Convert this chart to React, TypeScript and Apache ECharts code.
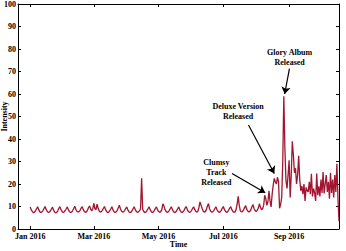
import { useEffect, useRef } from "react";
import * as echarts from "echarts";

// Daily search intensity, index 0 = 1 Jan 2016
const valuesJanToApr: number[] = [
  9.8, 8.5, 7.8, 7.2, 7.5, 8.1, 9.0,
  9.9, 8.6, 7.7, 7.3, 7.6, 8.2, 9.1,
  10.0, 8.7, 7.9, 7.4, 7.5, 8.0, 8.9,
  9.7, 8.4, 7.6, 7.2, 7.4, 8.1, 9.2,
  9.9, 8.6, 7.8, 7.3, 7.6, 8.3, 9.0,
  9.8, 8.5, 7.7, 7.4, 7.5, 8.2, 9.1,
  10.1, 8.8, 7.9, 7.5, 7.7, 8.3, 9.3,
  9.9, 8.6, 7.8, 7.4, 7.6, 8.4, 9.6,
  10.2, 8.8, 8.0, 9.0, 11.4, 9.0, 8.6,
  11.0, 9.2, 8.0, 7.5, 7.7, 8.3, 9.2,
  10.0, 8.6, 7.8, 7.3, 7.5, 8.2, 9.0,
  9.9, 8.5, 7.7, 7.3, 7.6, 8.3, 9.4,
  10.6, 9.0, 8.0, 7.5, 7.6, 8.2, 9.1,
  9.8, 8.5, 7.7, 7.3, 7.5, 8.1, 9.0,
  9.9, 8.6, 7.8, 7.4, 7.6, 8.2, 9.0,
];
const valuesAprToJul: number[] = [
  22.5, 8.8, 7.8, 7.3, 7.5, 8.2, 9.0,
  9.9, 8.6, 7.8, 7.3, 7.6, 8.3, 9.2,
  9.8, 8.5, 7.8, 7.4, 7.7, 8.6, 11.2,
  10.2, 8.7, 7.9, 7.4, 7.6, 8.2, 9.1,
  9.9, 8.6, 7.8, 7.3, 7.5, 8.1, 9.0,
  9.8, 8.5, 7.7, 7.3, 7.6, 8.3, 9.3,
  10.0, 8.6, 7.8, 7.4, 7.6, 8.2, 9.1,
  9.9, 8.7, 7.9, 7.5, 7.8, 9.6, 12.0,
  10.6, 9.1, 8.0, 7.5, 7.7, 8.6, 10.2,
  11.3, 9.0, 8.0, 7.5, 7.6, 8.2, 9.1,
  9.9, 8.6, 7.8, 7.4, 7.6, 8.3, 9.2,
  10.0, 8.7, 7.9, 7.4, 7.6, 8.3, 9.3,
  9.9, 8.6, 7.8, 7.4, 7.6, 8.6, 11.0,
  14.5, 10.5, 8.2, 7.6, 7.7, 8.4, 9.5,
  10.4, 8.8, 8.0, 7.6, 7.8, 8.6, 10.0,
];
const valuesReleaseSeason: number[] = [
  10.8, 9.0, 8.2, 7.8, 8.3, 9.4, 11.2, 9.6, 8.6, 9.0,
  10.5, 15.0, 13.5, 10.5, 12.0, 17.0, 12.5, 9.8, 15.5, 19.5,
  22.5, 21.0, 20.0, 23.0, 21.0, 9.2, 11.0, 14.0, 30.0, 59.0,
  36.0, 21.6, 18.0, 24.0, 30.5, 14.0, 24.0, 39.0, 33.0, 25.0,
  27.0, 20.0, 24.0, 32.5, 22.0, 17.0, 19.0, 15.5, 20.0, 12.5,
  18.5, 17.0, 16.5, 21.0, 15.5, 24.5, 14.5, 18.0, 16.0, 12.5,
  24.7, 15.0, 19.0, 14.5, 22.0, 16.0, 25.3, 15.8, 20.0, 24.0,
  16.5, 21.0, 13.5, 25.0, 16.0, 22.0, 14.0, 24.0, 16.5, 29.0,
  14.0, 3.5,
];

const xTickDays: number[] = [0, 60, 121, 182, 244];
const xTickLabels: string[] = ["Jan 2016", "Mar 2016", "May 2016", "Jul 2016", "Sep 2016"];

const annotationTexts: string[] = ["Glory Album\nReleased", "Deluxe Version\nReleased", "Clumsy\nTrack\nReleased"];
const annotationAnchors: number[][] = [[244.5, 76.3], [195.9, 52.3], [175.4, 25.3]];
const arrowStarts: number[][] = [[244.3, 71.3], [205.7, 46.2], [190.2, 24.7]];
const arrowEnds: number[][] = [[239.8, 60.0], [230.0, 24.7], [221.5, 16.1]];

const FONT = "'Liberation Serif', 'Times New Roman', serif";
const LINE_COLOR = "#A2142F";

export default function App() {
  const ref = useRef<HTMLDivElement>(null);
  useEffect(() => {
    const chart = echarts.init(ref.current!, null, { renderer: "svg" });
    const values = [...valuesJanToApr, ...valuesAprToJul, ...valuesReleaseSeason];
    const data = values.map((v, i) => [i, v]);
    const xMin = -11.5;
    const xMax = values.length - 1;
    const labelFmt = (v: number) => {
      const idx = xTickDays.indexOf(Math.round(v));
      return idx >= 0 ? xTickLabels[idx] : "";
    };
    const axisText = { color: "#000", fontFamily: FONT, fontWeight: "bold" as const, fontSize: 8 };
    chart.setOption({
      animation: false,
      backgroundColor: "#fff",
      grid: { left: 18, right: 7, top: 4, bottom: 22, containLabel: false, outerBoundsMode: "none" },
      xAxis: [
        {
          type: "value",
          min: xMin,
          max: xMax,
          position: "bottom",
          name: "Time",
          nameLocation: "middle",
          nameGap: 11,
          nameMoveOverlap: false,
          nameTextStyle: { ...axisText, lineHeight: 8 },
          axisLine: { show: true, onZero: false, lineStyle: { color: "#000", width: 1 } },
          axisTick: { show: true, inside: true, length: 3, customValues: xTickDays, lineStyle: { color: "#000" } },
          axisLabel: { show: true, customValues: xTickDays, formatter: labelFmt, margin: 3, ...axisText },
          splitLine: { show: false },
        },
        {
          type: "value",
          min: xMin,
          max: xMax,
          position: "top",
          axisLine: { show: true, onZero: false, lineStyle: { color: "#000", width: 1 } },
          axisTick: { show: true, inside: true, length: 3, customValues: xTickDays, lineStyle: { color: "#000" } },
          axisLabel: { show: false },
          splitLine: { show: false },
        },
      ],
      yAxis: [
        {
          type: "value",
          min: 0,
          max: 100,
          interval: 10,
          position: "left",
          name: "Intensity",
          nameLocation: "middle",
          nameGap: 10,
          nameMoveOverlap: false,
          nameTextStyle: { ...axisText, lineHeight: 8 },
          axisLine: { show: true, onZero: false, lineStyle: { color: "#000", width: 1 } },
          axisTick: { show: true, inside: true, length: 3, lineStyle: { color: "#000" } },
          axisLabel: { show: true, margin: 2, ...axisText },
          splitLine: { show: false },
        },
        {
          type: "value",
          min: 0,
          max: 100,
          interval: 10,
          position: "right",
          axisLine: { show: true, onZero: false, lineStyle: { color: "#000", width: 1 } },
          axisTick: { show: true, inside: true, length: 3, lineStyle: { color: "#000" } },
          axisLabel: { show: false },
          splitLine: { show: false },
        },
      ],
      series: [
        {
          type: "line",
          xAxisIndex: 0,
          yAxisIndex: 0,
          data,
          showSymbol: false,
          symbol: "none",
          lineStyle: { color: LINE_COLOR, width: 1.3 },
          itemStyle: { color: LINE_COLOR },
          silent: true,
          markLine: {
            silent: true,
            animation: false,
            symbol: ["none", "arrow"],
            symbolSize: 7,
            label: { show: false },
            lineStyle: { color: "#000", width: 1.2, type: "solid" },
            data: arrowStarts.map((s, i) => [
              { coord: s, symbol: "none" },
              { coord: arrowEnds[i], symbol: "arrow", symbolSize: 7 },
            ]),
          },
          markPoint: {
            silent: true,
            animation: false,
            symbol: "circle",
            symbolSize: 0,
            itemStyle: { color: "transparent" },
            label: {
              show: true,
              position: "inside",
              color: "#000",
              fontFamily: FONT,
              fontWeight: "bold",
              fontSize: 8,
              lineHeight: 10,
              align: "center",
              formatter: (p: any) => p.name,
            },
            data: annotationTexts.map((t, i) => ({ name: t, coord: annotationAnchors[i] })),
          },
        },
      ],
    });
    return () => chart.dispose();
  }, []);
  return (
    <div
      ref={ref}
      style={{ position: "fixed", left: 0, top: 0, width: 346, height: 251 }}
    />
  );
}
